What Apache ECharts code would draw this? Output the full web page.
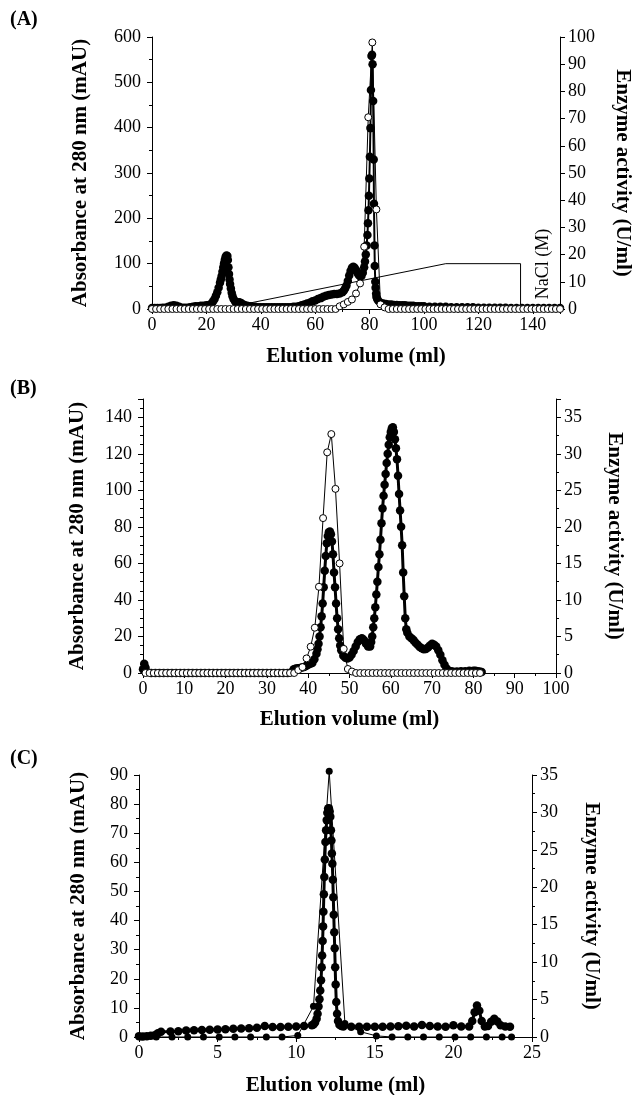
<!DOCTYPE html>
<html>
<head>
<meta charset="utf-8">
<title>Chromatography profiles</title>
<script src="https://cdn.jsdelivr.net/npm/echarts@6/dist/echarts.min.js"></script>
<style>
  html, body { margin: 0; padding: 0; background: #fff; }
  #chart { width: 632px; height: 1095px; }
</style>
</head>
<body>
<div id="chart"></div>
<script>
// ---- (A) ion exchange: absorbance trace [ml, mAU] ----
const absA = [
  [0,2],[1,2],[2,2],[3,2],[4,3],[5,3],[6,5],[7,7],[8,8],[9,7],[10,5],[11,3],[12,3],[13,3],[14,4],[15,5],
  [16,6],[17,6],[18,7],[19,7],[20,8],[21,9],[22,13],[22.5,17],[23,22],[23.5,29],[24,37],[24.5,47],[25,58],
  [25.3,65],[25.6,73],[25.9,82],[26.2,92],[26.5,101],[26.8,109],[27.1,115],[27.4,118],[27.7,117],[27.9,108],
  [28.1,92],[28.3,77],[28.5,65],[28.7,55],[29,45],[29.3,36],[29.6,28],[30,22],[30.5,17],[31,14],[31.5,14],
  [32,15],[32.5,14],[33,12],[34,9],[35,7],[36,6],[37,5],[38,5],[39,4],[40,4],[41,4],[42,4],[43,4],[44,4],
  [45,4],[46,4],[47,4],[48,4],[49,4],[50,4],[51,4],[52,5],[53,5],[54,6],[55,8],[56,10],[57,12],[58,14],
  [59,17],[60,19],[61,22],[62,24],[63,27],[64,29],[65,31],[66,32],[67,33],[68,33],[69,34],[70,37],[70.5,40],
  [71,45],[71.5,52],[72,62],[72.5,74],[73,84],[73.5,91],[74,93],[74.5,91],[75,86],[75.5,80],[76,75],[76.5,72],
  [77,73],[77.5,80],[78,92],[78.3,105],[78.6,120],[78.9,140],[79.2,163],[79.4,189],[79.6,218],[79.75,250],
  [79.9,288],[80.1,336],[80.3,399],[80.5,483],[80.7,558],[80.9,561],[81.1,540],[81.3,459],[81.5,330],
  [81.6,232],[81.8,140],[81.9,95],[82.1,60],[82.2,47],[82.4,34],[82.5,27],[82.8,22],[83.2,18],[84,14],
  [85,12],[86,11],[87,10],[88,10],[89,9],[90,9],[91,8],[92,8],[93,8],[94,7],[95,7],[96,7],[97,6],[98,6],
  [99,6],[100,6],[102,5],[104,5],[106,5],[108,5],[110,4],[112,4],[114,4],[116,4],[118,4],[120,3],[122,3],
  [124,3],[126,3],[128,3],[130,3],[132,2],[134,2],[136,2],[138,2],[140,2],[142,2],[144,2],[146,2],[148,2],[150,2]
];
// enzyme activity (U/ml), one fraction every 1.5 ml from 0 ml
const actAStart = 0, actAStep = 1.5;
const actA = [
  0,0,0,0,0,0,0,0,0,0, 0,0,0,0,0,0,0,0,0,0, 0,0,0,0,0,0,0,0,0,0, 0,0,0,0,0,0,0,0,0,0, 0,0,0,0,0,0,
  1.0,1.7,2.6,3.5,5.7,9.4,22.9,70.5,98,36.6,1.7,0.6,
  0,0,0,0,0,0,0,0,0,0, 0,0,0,0,0,0,0,0,0,0, 0,0,0,0,0,0,0,0,0,0, 0,0,0,0,0,0,0,0,0,0, 0,0,0
];
// NaCl gradient drawn on the absorbance scale
const naclA = [[35,12],[108,100],[135.5,100],[135.5,0]];

// ---- (B) absorbance trace ----
const absB = [
  [0,2],[0.3,5],[0.6,3],[1,0.5],[2,0],[3,0],[4,0],[5,0],[6,0],[7,0],[8,0],[9,0],[10,0],[11,0],[12,0],[13,0],
  [14,0],[15,0],[16,0],[17,0],[18,0],[19,0],[20,0],[21,0],[22,0],[23,0],[24,0],[25,0],[26,0],[27,0],[28,0],
  [29,0],[30,0],[31,0],[32,0],[33,0],[34,0],[35,0],[36,0.5],[36.5,2],[37,2.5],[37.5,2.6],[38,2.8],[38.5,3],
  [39,3.3],[39.5,3.8],[40,4.5],[40.5,5],[41,5.5],[41.5,7.5],[42,10.5],[42.25,13],[42.5,16],[42.75,20],[43,25],
  [43.25,31],[43.5,38],[43.75,47],[44,56],[44.25,64],[44.5,71],[44.75,75],[45,77],[45.25,77.5],[45.5,76],
  [45.75,72],[46,65],[46.25,55],[46.5,47],[46.75,38],[47,30],[47.25,24],[47.5,19],[47.75,15],[48,12.5],
  [48.5,9.5],[49,8.3],[49.5,8],[50,8.5],[50.5,10],[51,12],[51.5,14.5],[52,17],[52.5,18.5],[53,19],[53.5,18],
  [54,16],[54.5,14.5],[55,14.5],[55.25,17],[55.5,20],[55.75,25],[56,30],[56.25,36],[56.5,43],[56.75,50],
  [57,58],[57.25,65],[57.5,73],[57.75,82],[58,90],[58.25,97],[58.5,103],[58.75,109],[59,115],[59.25,120],
  [59.5,125],[59.75,129],[60,132],[60.25,134],[60.5,134.5],[60.75,132],[61,128],[61.25,123],[61.5,117],
  [61.75,108],[62,98],[62.25,89],[62.5,80],[62.75,70],[63,55],[63.25,42],[63.5,30],[63.75,24],[64,22],
  [64.5,20],[65,19],[65.5,18],[66,16.5],[66.5,15.5],[67,14.3],[67.5,13.5],[68,13],[68.5,13.2],[69,14],
  [69.5,15],[70,16],[70.5,15.5],[71,14.5],[71.5,12.5],[72,10],[72.5,7],[73,4.5],[73.5,2.5],[74,1.2],
  [74.5,0.9],[75,0.8],[76,0.8],[77,0.9],[78,1],[79,1.2],[80,1.3],[80.5,1.2],[81,1],[81.5,0.8],[82,0.6]
];
// activity, one fraction per ml starting at 0.6 ml
const actBStart = 0.6, actBStep = 1;
const actB = [
  0,0,0,0,0,0,0,0,0,0, 0,0,0,0,0,0,0,0,0,0, 0,0,0,0,0,0,0,0,0,0, 0,0,0,0,0,0,0,
  0.4,0.8,2.0,3.6,6.2,11.8,21.2,30.2,32.7,25.2,15.0,3.3,0.55,0.2,
  0,0,0,0,0,0,0,0,0,0, 0,0,0,0,0,0,0,0,0,0, 0,0,0,0,0,0,0,0,0,0, 0
];

// ---- (C) absorbance trace ----
const absC = [
  [0,0.3],[0.25,0.2],[0.5,0.3],[0.75,0.4],[1,0.6],[1.2,1.3],[1.4,1.8],[2,1.9],[2.5,2],[3,2.2],[3.5,2.3],
  [4,2.4],[4.5,2.5],[5,2.6],[5.5,2.7],[6,2.8],[6.5,2.9],[7,3],[7.5,3.2],[8,3.8],[8.5,3.4],[9,3.4],[9.5,3.5],
  [10,3.6],[10.5,3.8],[11,4],[11.1,4.3],[11.2,5],[11.3,6.3],[11.36,8],[11.42,10.5],[11.48,13],[11.53,16],
  [11.58,19.5],[11.62,24],[11.65,28],[11.68,33],[11.71,38],[11.73,43],[11.76,49],[11.79,55],[11.82,61],
  [11.86,67],[11.9,71],[11.94,74.5],[11.98,77],[12.03,78.5],[12.08,78.6],[12.13,77.5],[12.17,75.7],
  [12.21,71],[12.24,67.5],[12.27,63],[12.3,59.5],[12.33,54],[12.36,48],[12.39,42],[12.42,36],[12.45,30.5],
  [12.48,24],[12.51,18],[12.55,12],[12.6,8],[12.66,5.5],[12.75,4.2],[12.87,3.8],[13,3.6],[13.5,3.5],
  [14,3.5],[14.5,3.5],[15,3.5],[15.5,3.5],[16,3.6],[16.5,3.7],[17,3.9],[17.5,3.6],[18,4.1],[18.5,3.8],
  [19,3.6],[19.5,3.5],[20,4],[20.5,3.6],[21,3.6],[21.2,5.5],[21.35,8.5],[21.5,10.8],[21.65,9],[21.8,5.5],
  [22,3.6],[22.2,3.8],[22.4,5.2],[22.6,6.3],[22.8,5.3],[23,4],[23.3,3.6],[23.6,3.5]
];
// activity (U/ml) per fraction [ml, U/ml]
const actC = [
  [0.1,0],[1.1,0],[2.1,0],[3.1,0],[4.1,0],[5.1,0],[6.1,0],[7.1,0],[8.1,0],[9.1,0],[10.1,0.2],[11.1,4.1],
  [12.1,35.5],[13.1,1.8],[14.1,0.7],[15.1,0.15],[16.1,0],[17.1,0],[18.1,0],[19.1,0],[20.1,0],[21.1,0],
  [22.1,0],[23.1,0],[23.7,0]
];

const SERIF = '"Liberation Serif", "Times New Roman", serif';

function fractions(start, step, vals) {
  return vals.map((v, i) => [+(start + step * i).toFixed(2), v]);
}

function xAxisFor(grid, max, interval, nameGap) {
  return {
    gridIndex: grid, type: 'value', min: 0, max: max, interval: interval,
    name: 'Elution volume (ml)', nameLocation: 'middle', nameGap: nameGap,
    nameTextStyle: { fontFamily: SERIF, fontWeight: 'bold', fontSize: 21, color: '#000' },
    axisLine: { show: true, onZero: false, lineStyle: { color: '#000', width: 1 } },
    axisTick: { show: true, length: 5, lineStyle: { color: '#000' } },
    minorTick: { show: true, splitNumber: 2, length: 3, lineStyle: { color: '#000' } },
    axisLabel: { fontFamily: SERIF, fontSize: 18, color: '#000', margin: 7, showMaxLabel: max % interval === 0 },
    splitLine: { show: false }
  };
}

function yAxisFor(grid, pos, max, interval, minor, name, nameGap) {
  return {
    gridIndex: grid, type: 'value', position: pos, min: 0, max: max, interval: interval,
    name: name, nameLocation: 'middle', nameGap: nameGap,
    nameRotate: pos === 'right' ? -90 : 90,
    nameTextStyle: { fontFamily: SERIF, fontWeight: 'bold', fontSize: 21, color: '#000' },
    axisLine: { show: true, onZero: false, lineStyle: { color: '#000', width: 1 } },
    axisTick: { show: true, length: 5, lineStyle: { color: '#000' } },
    minorTick: { show: minor > 1, splitNumber: minor, length: 3, lineStyle: { color: '#000' } },
    axisLabel: {
      fontFamily: SERIF, fontSize: 18, color: '#000', margin: pos === 'right' ? 8 : 11,
      showMaxLabel: max % interval === 0
    },
    splitLine: { show: false }
  };
}

function absSeries(xi, yi, data, lineWidth) {
  return {
    type: 'line', xAxisIndex: xi, yAxisIndex: yi, data: data, clip: false,
    symbol: 'circle', symbolSize: 8.5, showAllSymbol: true,
    itemStyle: { color: '#000' },
    lineStyle: { color: '#000', width: lineWidth }, z: 2
  };
}

function openSeries(xi, yi, data) {
  return {
    type: 'line', xAxisIndex: xi, yAxisIndex: yi, data: data, clip: false,
    symbol: 'circle', symbolSize: 7, showAllSymbol: true,
    itemStyle: { color: '#fff', borderColor: '#000', borderWidth: 1 },
    lineStyle: { color: '#000', width: 1 }, z: 3
  };
}

const ABS_NAME = 'Absorbance at 280 nm (mAU)';
const ACT_NAME = 'Enzyme activity (U/ml)';

const chart = echarts.init(document.getElementById('chart'), null, { renderer: 'canvas' });

const option = {
  animation: false,
  backgroundColor: '#fff',
  textStyle: { fontFamily: SERIF, color: '#000' },
  grid: [
    { left: 152, top: 37, width: 408, height: 272, containLabel: false, outerBoundsMode: 'none' },
    { left: 143, top: 399, width: 413, height: 274, containLabel: false, outerBoundsMode: 'none' },
    { left: 139, top: 775, width: 393, height: 262, containLabel: false, outerBoundsMode: 'none' }
  ],
  xAxis: [
    xAxisFor(0, 150, 20, 37),
    xAxisFor(1, 100, 10, 36),
    xAxisFor(2, 25, 5, 38)
  ],
  yAxis: [
    yAxisFor(0, 'left', 600, 100, 2, ABS_NAME, 61),
    yAxisFor(0, 'right', 100, 10, 1, ACT_NAME, 52),
    yAxisFor(1, 'left', 150, 20, 4, ABS_NAME, 55),
    yAxisFor(1, 'right', 37.5, 5, 2, ACT_NAME, 48),
    yAxisFor(2, 'left', 90, 10, 2, ABS_NAME, 50),
    yAxisFor(2, 'right', 35, 5, 2, ACT_NAME, 49)
  ],
  graphic: [
    { type: 'text', left: 10, top: 10, style: { text: '(A)', font: 'bold 20px ' + SERIF, fill: '#000' } },
    { type: 'text', left: 10, top: 379, style: { text: '(B)', font: 'bold 20px ' + SERIF, fill: '#000' } },
    { type: 'text', left: 10, top: 749, style: { text: '(C)', font: 'bold 20px ' + SERIF, fill: '#000' } },
    {
      type: 'text', x: 543, y: 264, rotation: Math.PI / 2,
      style: { text: 'NaCl (M)', font: '18px ' + SERIF, fill: '#000', align: 'center', verticalAlign: 'middle' }
    }
  ],
  series: [
    absSeries(0, 0, absA, 2),
    { type: 'line', xAxisIndex: 0, yAxisIndex: 0, data: naclA, symbol: 'none', clip: false,
      lineStyle: { color: '#000', width: 1 }, z: 1 },
    openSeries(0, 1, fractions(actAStart, actAStep, actA)),

    absSeries(1, 2, absB, 3),
    openSeries(1, 3, fractions(actBStart, actBStep, actB)),

    absSeries(2, 4, absC, 3),
    {
      type: 'line', xAxisIndex: 2, yAxisIndex: 5, data: actC, clip: false,
      symbol: 'circle', symbolSize: 7, itemStyle: { color: '#000' },
      lineStyle: { color: '#000', width: 1 }, z: 3
    }
  ]
};

chart.setOption(option);
</script>
</body>
</html>
